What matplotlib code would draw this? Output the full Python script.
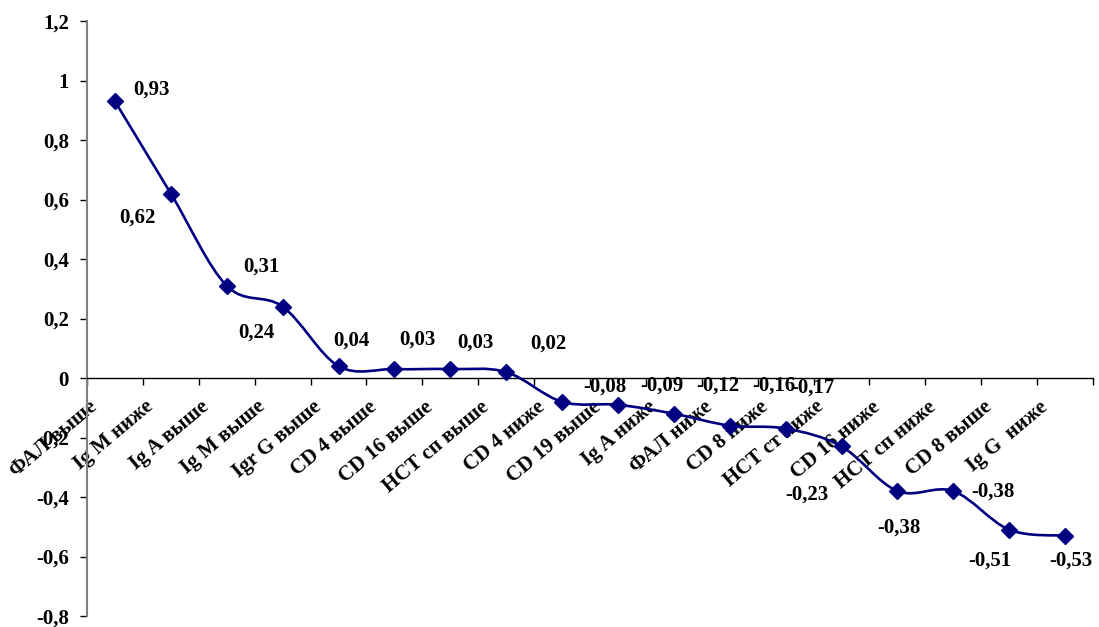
import numpy as np
import matplotlib
matplotlib.use('Agg')
import matplotlib.pyplot as plt
from matplotlib.path import Path
from matplotlib.patches import PathPatch
from matplotlib.transforms import ScaledTranslation

plt.rcParams['font.family'] = ['Liberation Serif', 'DejaVu Serif']
plt.rcParams['font.weight'] = 'bold'

# categories and values
categorias = ['ФАЛ выше', 'Ig M ниже', 'Ig A выше', 'Ig M выше', 'Igr G выше',
              'CD 4 выше', 'CD 16 выше', 'НСТ сп выше', 'CD 4 ниже', 'CD 19 выше',
              'Ig A ниже', 'ФАЛ ниже', 'CD 8 ниже', 'НСТ ст ниже', 'CD 16 ниже',
              'НСТ сп ниже', 'CD 8 выше', 'Ig G  ниже']
valores = [0.93, 0.62, 0.31, 0.24, 0.04, 0.03, 0.03, 0.02, -0.08, -0.09,
           -0.12, -0.16, -0.17, -0.23, -0.38, -0.38, -0.51, -0.53]
etiquetas = ['0,93', '0,62', '0,31', '0,24', '0,04', '0,03', '0,03', '0,02', '-0,08',
             '-0,09', '-0,12', '-0,16', '-0,17', '-0,23', '-0,38', '-0,38', '-0,51', '-0,53']

# label offsets in pixels (dx, dy), dy positive = up
offsets = [(37, 12), (-33, -24), (35, 19), (-26, -26), (13, 26), (23, 29), (25, 26),
           (42, 28), (43, 15), (44, 19), (44, 28), (44, 40), (27, 41), (-35, -48),
           (2, -37), (40, -1), (-19, -31), (6, -25)]

azul = '#000080'
fs = 15

fig = plt.figure(figsize=(10.99, 6.27), dpi=100)
ax = fig.add_axes([87/1099, 11/627, 1006/1099, 595/627])

x = np.arange(len(valores))
y = np.array(valores)

# smoothed line (bezier through the points, like excel "smoothed line")
verts = [(x[0], y[0])]
codes = [Path.MOVETO]
n = len(x)
for i in range(n - 1):
    p0 = np.array([x[max(i-1, 0)], y[max(i-1, 0)]])
    p1 = np.array([x[i], y[i]])
    p2 = np.array([x[i+1], y[i+1]])
    p3 = np.array([x[min(i+2, n-1)], y[min(i+2, n-1)]])
    c1 = p1 + (p2 - p0) / 6.0
    c2 = p2 - (p3 - p1) / 6.0
    verts += [tuple(c1), tuple(c2), tuple(p2)]
    codes += [Path.CURVE4, Path.CURVE4, Path.CURVE4]
ax.add_patch(PathPatch(Path(verts, codes), facecolor='none', edgecolor=azul, lw=1.9, zorder=3))
ax.plot(x, y, linestyle='none', marker='D', markersize=8, color=azul, zorder=4)

for xi, yi, txt, (dx, dy) in zip(x, y, etiquetas, offsets):
    ax.annotate(txt, (xi, yi), xytext=(dx, dy), textcoords='offset pixels',
                ha='center', va='center', fontsize=fs, fontweight='bold')

ax.set_xlim(-0.5, len(valores) - 0.5)
ax.set_ylim(-0.8, 1.2)
yt = np.arange(-0.8, 1.21, 0.2)
ax.set_yticks(yt)
ax.set_yticklabels(['{:g}'.format(round(v, 1) + 0.0).replace('.', ',') for v in yt], fontsize=fs)

ax.spines['top'].set_visible(False)
ax.spines['right'].set_visible(False)
ax.spines['left'].set_color('#808080')
ax.spines['left'].set_linewidth(1.5)
ax.spines['bottom'].set_position(('data', 0))
ax.spines['bottom'].set_color('black')
ax.spines['bottom'].set_linewidth(1.0)

ax.tick_params(axis='y', direction='out', length=5, width=1, pad=8)
ax.set_xticks(x)
ax.set_xticks(np.arange(-0.5, len(valores), 1), minor=True)
ax.set_xticklabels(categorias, rotation=40, ha='right', va='center',
                   rotation_mode='anchor', fontsize=fs)
ax.tick_params(axis='x', which='major', length=0, pad=19)
ax.tick_params(axis='x', which='minor', direction='out', length=5, width=1)

shift = ScaledTranslation(-20/100, 0, fig.dpi_scale_trans)
for lbl in ax.get_xticklabels():
    lbl.set_transform(lbl.get_transform() + shift)

fig.savefig('out.png', dpi=100)
